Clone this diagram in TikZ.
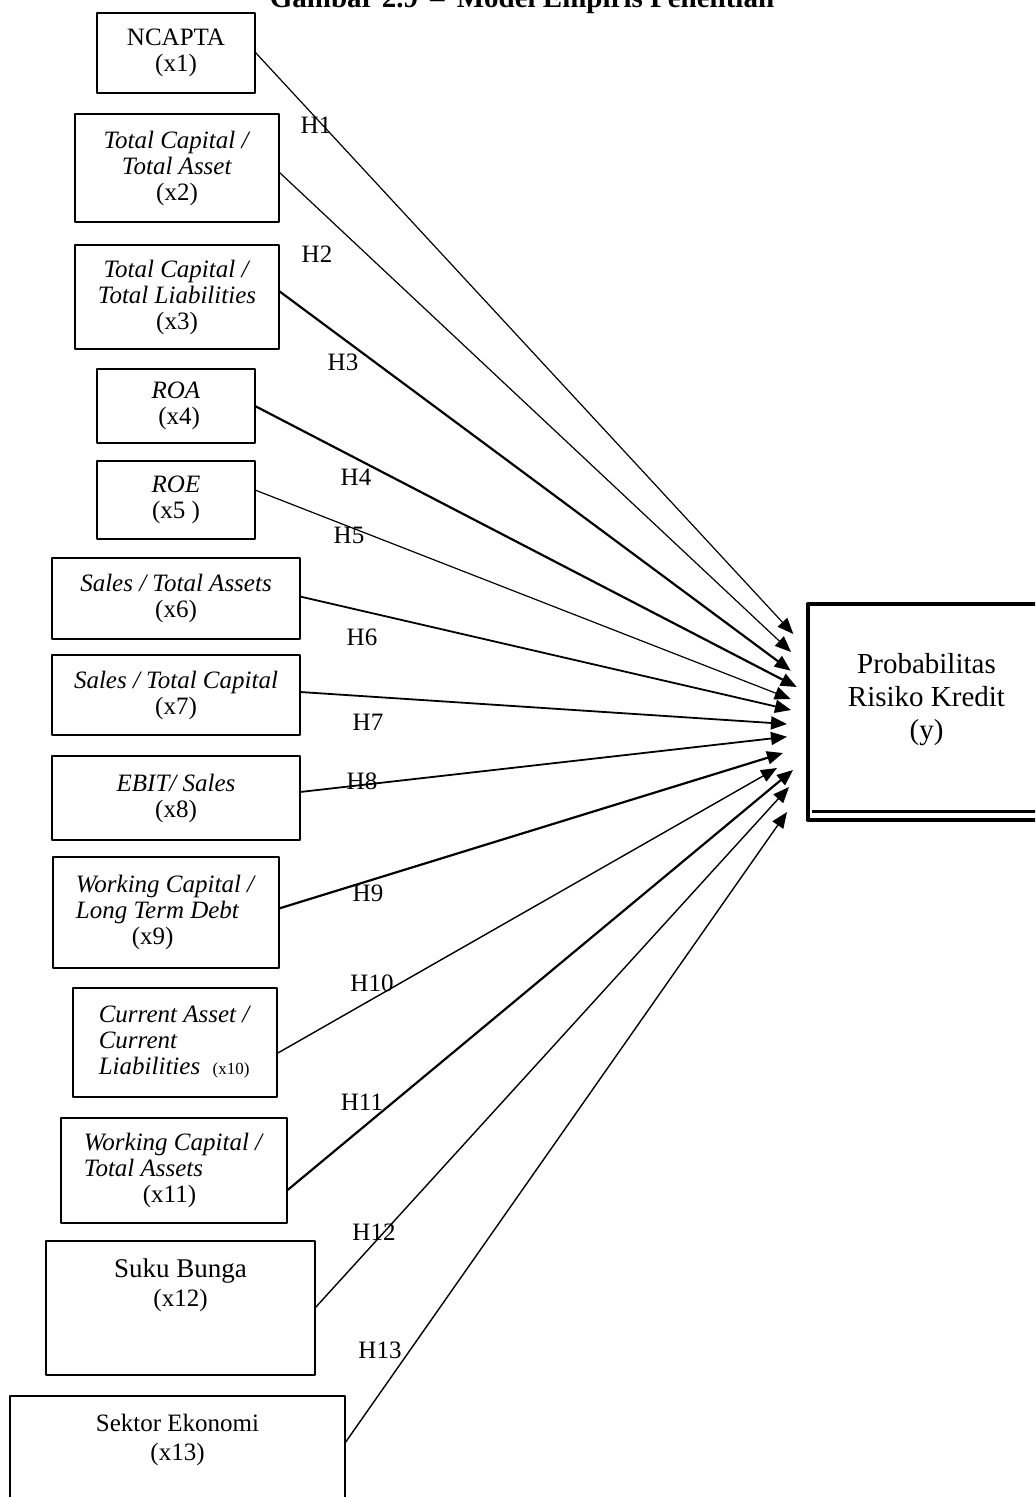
\documentclass[tikz,border=0pt]{standalone}
\usepackage{fontspec}
\setmainfont{Liberation Serif}
\usetikzlibrary{arrows.meta}

\begin{document}
\begin{tikzpicture}[x=0.5pt,y=-0.5pt,line join=round,>={Triangle[length=8pt,width=6.5pt]},
  every node/.style={inner sep=0pt,outer sep=0pt},
  box/.style={draw,line width=1pt,align=center,font=\fontsize{12.5}{13}\selectfont},
  hyp/.style={font=\fontsize{12.5}{13}\selectfont}]
  \useasboundingbox (0,0) rectangle (1035,1497);
  \clip (0,0) rectangle (1035,1497);
  \node[anchor=base,font=\bfseries\fontsize{14.5}{16}\selectfont] (judul) at (522,8) {Gambar 2.9 \,–\, Model Empiris Penelitian};
  \node[box,minimum width=79pt,minimum height=40pt] (x1) at (176,53) {NCAPTA\\(x1)};
  \node[box,minimum width=102pt,minimum height=54pt] (x2) at (177,168) {\textit{Total Capital /}\\\textit{Total Asset}\\(x2)};
  \node[box,minimum width=102pt,minimum height=52pt] (x3) at (177,297) {\textit{Total Capital /}\\\textit{Total Liabilities}\\(x3)};
  \node[box,minimum width=79pt,minimum height=37pt] (x4) at (176,406) {\textit{ROA}\\\ (x4)};
  \node[box,minimum width=79pt,minimum height=39pt] (x5) at (176,500) {\textit{ROE}\\(x5 )};
  \node[box,minimum width=124pt,minimum height=40.5pt] (x6) at (176,598.5) {\textit{Sales / Total Assets}\\(x6)};
  \node[box,minimum width=124pt,minimum height=40pt] (x7) at (176,695) {\textit{Sales / Total Capital}\\(x7)};
  \node[box,minimum width=124pt,minimum height=42pt] (x8) at (176,798) {\textit{EBIT/ Sales}\\(x8)};
  \node[box,align=left,minimum width=113pt,minimum height=55.5pt] (x9) at (166,912.5) {\textit{Working Capital /}\\\textit{Long Term Debt}\\\hspace*{28pt}(x9)};
  \node[box,align=left,minimum width=102pt,minimum height=54.5pt] (x10) at (175,1042.5) {\textit{Current Asset /}\\\textit{Current}\\\textit{Liabilities}\ \ {\fontsize{8.5}{10}\selectfont(x10)}};
  \node[box,align=left,minimum width=113pt,minimum height=52.5pt] (x11) at (174,1170.5) {\textit{Working Capital /}\\\textit{Total Assets}\\\hspace*{29.5pt}(x11)};
  \node[box,minimum width=134.5pt,minimum height=67pt] (x12) at (180.5,1308) {};
  \node[anchor=north,align=center,font=\fontsize{12.5}{14.5}\selectfont] (x12t) at ([yshift=-9pt]x12.north) {{\fontsize{13.5}{14.5}\selectfont Suku Bunga}\\(x12)};
  \node[box,minimum width=167.5pt,minimum height=70pt] (x13) at (177.5,1466) {};
  \node[anchor=north,align=center,font=\fontsize{12.5}{14.5}\selectfont] (x13t) at ([yshift=-9pt]x13.north) {Sektor Ekonomi\\(x13)};
  \node[draw,line width=2pt,minimum width=119pt,minimum height=108pt] (y) at (926.5,712) {};
  \node[align=center,font=\fontsize{14.5}{16.5}\selectfont] (yt) at ([yshift=6pt]y.center) {Probabilitas\\Risiko Kredit\\(y)};
  \draw[line width=1.2pt] ([shift={(4.5,-8.5)}]y.south west) -- ([shift={(0,-8.5)}]y.south east);
  \foreach \i/\sy/\ex/\ey/\lw in {1/-1/-14.2/-78/0.6,2/4/-16.5/-60/0.6,3/-6/-16.8/-41.3/1.1,
      4/0/-10.8/-25/1.1,5/-10/-16.8/-13/0.6,6/-2/-16.5/-2/0.9,7/-3/-20.5/12/0.9,
      8/-6/-20.5/24.7/0.9,9/-4/-24.5/41/1.1,10/11/-30.5/56/0.7,11/20/-14.5/58/1.1,
      12/0/-18.5/75/0.7,13/-23/-20.5/100/0.7}
    \draw[->,line width=\lw pt] ([shift={(0,\sy)}]x\i.east) -- ([shift={(\ex,\ey)}]y.west);
  \foreach \i/\lx/\ly in {1/316/125,2/317/254,3/343/362,4/356/477,5/349/535,6/362/637,7/368/722,
      8/362/781,9/368/893,10/372/983,11/362/1102,12/374/1232,13/380/1350}
    \node[hyp] (h\i) at (\lx,\ly) {H\i};
\end{tikzpicture}
\end{document}
